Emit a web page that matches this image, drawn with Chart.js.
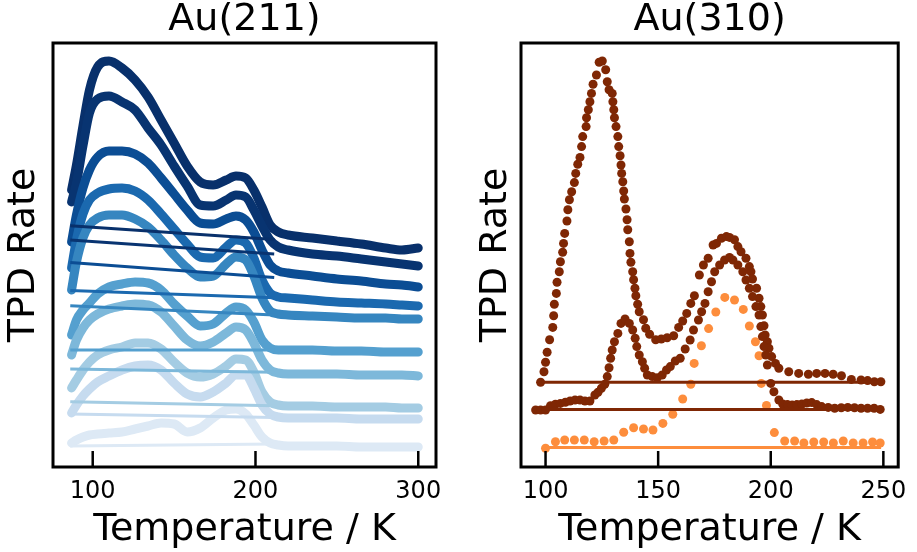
<!DOCTYPE html>
<html>
<head>
<meta charset="utf-8">
<script src="https://cdn.jsdelivr.net/npm/chart.js@4.4.1/dist/chart.umd.min.js"></script>
<style>
  html, body { margin: 0; padding: 0; background: #fff; }
  canvas { position: absolute; top: 0; }
  #chart-211 { left: 0; }
  #chart-310 { left: 465px; }
</style>
</head>
<body>
<canvas id="chart-211" width="465" height="552"></canvas>
<canvas id="chart-310" width="452" height="552"></canvas>
<script>
// ---- Au(211) data (temperature in K, rate in a.u., curves offset) ----
const temp211 = [87, 90, 94, 98, 103, 110, 118, 126, 134, 142, 150, 158, 166, 174, 182, 188, 194, 199, 204, 209, 214, 220, 235, 250, 265, 280, 290, 300];
const r211_1 = [69.25, 75.5, 85.25, 94.25, 100, 101.5, 99.75, 96.75, 92.5, 86.75, 81, 75.25, 71.25, 70.5, 71.75, 72.75, 72.25, 69.25, 65, 60.5, 58.75, 58, 57.25, 56.5, 55.75, 54.75, 54.25, 54.75];
const r211_2 = [66.25, 71, 80.25, 88.5, 92, 92.75, 91.25, 89.25, 84.75, 80.5, 75.25, 70.25, 65.5, 65.25, 66.75, 68, 67.5, 64.25, 60.25, 56.75, 55, 54.25, 53.25, 52.75, 52, 51.25, 50.75, 50.25];
const r211_3 = [56.25, 63, 69.75, 74.25, 77.5, 79, 79, 78.25, 76, 72.25, 68.25, 64.25, 61, 60.75, 62, 62.75, 61.75, 58.75, 54.25, 50.5, 49, 48.5, 47.75, 47, 46.5, 45.75, 45.5, 45];
const r211_4 = [49.75, 56.75, 63.25, 66.75, 68.5, 69.5, 69.75, 69, 66.75, 63.25, 59.5, 55.75, 52.5, 52.25, 55, 56.75, 56, 52.25, 46.75, 43.5, 42.5, 42.25, 41.75, 41.25, 41, 40.75, 40.5, 40.25];
const r211_5 = [44.25, 51.25, 57.25, 60.5, 62.25, 63, 63, 62, 60, 56.75, 53, 49.75, 47.5, 47.75, 50.75, 52.5, 51.75, 47.75, 42.25, 39, 38.25, 38, 37.75, 37.5, 37.25, 37.25, 37, 37];
const r211_6 = [33, 36.75, 39.25, 41, 43.25, 45, 45.75, 46.25, 46, 44.25, 40.75, 37.75, 35.25, 35.75, 38.5, 40, 39.25, 36.25, 31.75, 29.75, 29.25, 29.25, 29.25, 29, 29, 28.75, 28.75, 28.75];
const r211_7 = [28, 31.75, 34.75, 36.75, 38.25, 39.5, 40.25, 40.75, 40.5, 38.75, 35.25, 31.75, 30.25, 31.25, 33.5, 35, 34.25, 31, 26.75, 24.25, 23.5, 23.25, 23.25, 23.25, 23, 23, 23, 22.75];
const r211_8 = [19.75, 21.75, 24.25, 26.25, 28, 29.25, 30, 31, 31, 29.5, 26.25, 23.5, 22.5, 23.25, 25.25, 27, 26.75, 23.75, 18.75, 16.25, 15.5, 15.25, 15.25, 15, 15, 15, 14.75, 14.75];
const r211_9 = [13.5, 15.5, 17.75, 19.5, 21.25, 22.75, 24.25, 25.25, 25.5, 24.25, 21, 18.25, 17.5, 18.75, 21, 23, 23, 19.75, 15.5, 13.25, 12.5, 12.25, 12.25, 12.25, 12, 12, 12, 12];
const r211_10 = [6, 6.75, 7.5, 8, 8.25, 8.5, 8.75, 9.5, 10.25, 11, 10.75, 8.75, 9.75, 12.25, 14.25, 14.5, 13.25, 10.5, 7.5, 6, 5.5, 5.25, 5.25, 5.25, 5, 5, 5, 5];
// straight background lines: value at start / end temperature
const baseT211 = [86.2, 211.5];
const base211Start = [60.3, 56.75, 51.1, 44.1, 40.3, 29.25, 24.5, 16.3, 13.25, 5.25];
const base211End = [56.85, 53.25, 47.4, 42.3, 38.0, 29.25, 23.7, 15.3, 12.4, 5.75];
const ticks211 = [100, 200, 300];

// ---- Au(310) data ----
const t310a = [97.8, 99.3, 100.0, 100.7, 101.8, 103.2, 103.6, 103.9, 104.8, 105.1, 106.1, 106.6, 107.6, 108.0, 108.5, 109.5, 109.9, 110.6, 111.6, 112.8, 113.4, 114.3, 115.3, 116.0, 116.5, 118.0, 118.2, 119.0, 119.7, 120.4, 121.1, 122.6, 123.8, 125.2, 126.7, 127.4, 128.2, 129.6, 129.9, 130.3, 130.6, 131.3, 132.1, 132.5, 133.1, 133.5, 133.8, 134.3, 134.7, 135.0, 135.7, 136.2, 136.5, 137.2, 137.5, 137.9, 138.7, 139.1, 139.7, 140.1, 140.9, 141.6, 143.5, 144.5, 146.2, 148.9, 151.4, 154.0, 156.9, 159.1, 160.9, 162.7, 164.5, 166.1, 168.3, 170.1, 172.2, 174.4, 175.9, 178.1, 180.3, 181.7, 183.9, 185.4, 186.8, 189.0, 190.5, 191.2, 191.9, 193.7, 194.8, 195.6, 196.3, 197.0, 197.5, 198.5, 199.2, 200.4, 202.1, 203.6, 208, 212.4, 216.7, 220.4, 224.1, 227.7, 231.4, 235.8, 240.1, 243, 246, 248.9];
const r310a = [21.2, 23.8, 26.2, 28.7, 31.8, 34.9, 37.8, 40.7, 43.4, 46.2, 48.8, 51.3, 53.7, 55.9, 58.4, 61.5, 64.3, 66.8, 68.8, 71.1, 73.4, 75.7, 77.4, 80.1, 82.6, 85.1, 87.3, 89.3, 91.3, 93.4, 95.7, 98.0, 101.2, 101.5, 99.3, 96.3, 94.3, 93.4, 91.3, 89.3, 87.3, 85.1, 82.6, 80.1, 77.8, 75.5, 73.4, 71.3, 69.0, 67.0, 64.5, 61.8, 59.3, 56.3, 53.4, 51.2, 48.8, 46.8, 44.7, 42.8, 40.7, 38.8, 36.8, 34.7, 33.2, 31.8, 32.0, 32.3, 32.8, 34.9, 36.5, 38.4, 40.9, 42.8, 48.0, 50.5, 52.2, 55.5, 55.9, 57.2, 57.6, 57.4, 56.8, 55.1, 53.8, 52.2, 50.1, 48.8, 47.0, 44.7, 42.2, 40.1, 38.0, 35.3, 33.0, 31.3, 29.7, 27.6, 25.9, 24.7, 23.8, 23.4, 23.2, 23.4, 23.4, 23.2, 22.8, 21.9, 21.75, 21.6, 21.3, 21.3];
const t310b = [95.6, 97.8, 100.0, 102.2, 104.4, 106.6, 108.8, 110.9, 113.1, 115.3, 117.5, 119.7, 121.9, 123.3, 124.8, 126.3, 127.4, 128.2, 128.9, 129.6, 130.6, 132.1, 133.5, 135.3, 137.2, 138.7, 139.8, 140.5, 141.6, 143.0, 144.0, 145.2, 147.4, 149.6, 151.8, 153.7, 155.4, 157.6, 159.8, 162.0, 164.2, 165.7, 167.9, 169.3, 170.8, 172.2, 173.7, 175.1, 177.3, 179.5, 181.7, 183.2, 185.4, 187.6, 189.0, 190.5, 191.9, 193.4, 194.8, 195.6, 196.3, 197.0, 197.8, 198.5, 200.0, 201.4, 203.6, 205.3, 207.4, 209.5, 211.6, 213.8, 216.0, 218.2, 220.4, 222.6, 225.5, 228.4, 231.3, 234.2, 237.2, 240.1, 243.0, 245.9, 248.6];
const r310b = [14.25, 14.25, 14.25, 15.3, 15.7, 15.9, 16.2, 16.5, 16.75, 16.75, 16.5, 16.5, 18.0, 18.7, 19.7, 20.7, 22.6, 24.8, 27.2, 29.25, 31.3, 33.4, 35.9, 37.0, 35.9, 34.25, 32.2, 30.1, 28.0, 26.3, 24.7, 23.0, 22.6, 22.3, 23.0, 24.25, 25.1, 26.5, 27.2, 29.5, 31.75, 34.25, 36.75, 38.8, 40.9, 43.8, 46.3, 48.8, 50.5, 51.75, 52.4, 51.75, 50.5, 48.8, 46.75, 44.7, 42.6, 40.1, 38.0, 35.1, 32.6, 30.1, 28.0, 25.5, 20.9, 18.8, 16.75, 15.75, 15.6, 15.5, 15.6, 15.75, 16.0, 16.1, 15.6, 15.1, 14.9, 14.7, 14.8, 14.9, 14.8, 14.7, 14.7, 14.7, 14.4];
const t310c = [100.0, 104.4, 108.5, 112.8, 117.2, 121.6, 126.0, 130.3, 134.7, 139.1, 143.5, 147.7, 152.1, 156.5, 160.9, 164.5, 166.0, 169.2, 172.4, 175.6, 179.6, 183.9, 187.8, 190.5, 193.2, 194.8, 195.8, 198.1, 201.6, 206.2, 210.6, 214.7, 219.1, 223.5, 227.8, 232.2, 236.6, 241.0, 245.2, 248.6];
const r310c = [4.7, 6.3, 6.75, 6.75, 6.75, 6.3, 6.5, 6.75, 8.7, 9.8, 9.5, 9.25, 10.9, 13.2, 17.0, 20.7, 25.9, 30.3, 34.6, 38.75, 42.4, 41.75, 39.4, 35.25, 31.3, 27.8, 20.9, 15.4, 8.6, 6.5, 6.5, 6.0, 6.25, 6.25, 6.0, 6.5, 6.0, 6.0, 6.25, 6.0];
const baseT310 = [98, 249];
const base310 = [21.2, 14.4, 4.9];
const ticks310 = [100, 150, 200, 250];

const FONT = 'DejaVu Sans';
const blues = ['#08306b', '#083471', '#0b4d94', '#1b69af', '#3686c0', '#55a0cf', '#7db8da', '#a4cce3', '#c6dbef', '#dde9f5'];
const brown = '#7f2704';
const orange = '#fd8d3c';

//box around the plot + ticks pointing inwards
const frameBox = {
  id: 'frameBox',
  afterDraw(chart) {
    const { ctx, chartArea: a } = chart;
    const x = chart.scales.x;
    ctx.save();
    ctx.strokeStyle = '#000';
    ctx.lineWidth = 2.5;
    x.ticks.forEach(t => {
      const px = x.getPixelForValue(t.value);
      ctx.beginPath();
      ctx.moveTo(px, a.bottom);
      ctx.lineTo(px, a.bottom - 16);
      ctx.stroke();
    });
    ctx.lineWidth = 3;
    ctx.strokeRect(a.left, a.top, a.right - a.left, a.bottom - a.top);
    ctx.restore();
  }
};

function makeOptions(title, xmin, xmax, tickList, yWidth, yTitlePad, rightPad) {
  return {
    responsive: false,
    animation: false,
    devicePixelRatio: 1,
    layout: { padding: { left: 0, right: rightPad, top: 0, bottom: 0 } },
    plugins: {
      legend: { display: false },
      tooltip: { enabled: false },
      title: {
        display: true,
        text: title,
        fullSize: false,
        color: '#000',
        font: { family: FONT, size: 38, weight: 'normal', lineHeight: 1 },
        padding: { top: 1, bottom: 4 }
      }
    },
    scales: {
      x: {
        type: 'linear',
        min: xmin,
        max: xmax,
        afterBuildTicks: s => { s.ticks = tickList.map(v => ({ value: v })); },
        afterFit: s => { s.height = 85; },
        grid: { display: false, drawTicks: false },
        border: { display: false },
        ticks: { color: '#000', font: { family: FONT, size: 24 }, padding: 10, maxRotation: 0 },
        title: {
          display: true,
          text: 'Temperature / K',
          color: '#000',
          font: { family: FONT, size: 38, lineHeight: 1 },
          padding: { top: 0, bottom: 3 }
        }
      },
      y: {
        min: 0,
        max: 106,
        afterFit: s => { s.width = yWidth; },
        grid: { display: false, drawTicks: false },
        border: { display: false },
        ticks: { display: false },
        title: {
          display: true,
          text: 'TPD Rate',
          color: '#000',
          font: { family: FONT, size: 38, lineHeight: 1 },
          padding: { top: yTitlePad, bottom: 0 }
        }
      }
    }
  };
}

// Au(211) panel
const rates211 = [r211_1, r211_2, r211_3, r211_4, r211_5, r211_6, r211_7, r211_8, r211_9, r211_10];
const sets211 = [];
rates211.forEach((r, i) => {
  sets211.push({
    data: [{ x: baseT211[0], y: base211Start[i] }, { x: baseT211[1], y: base211End[i] }],
    borderColor: blues[i], borderWidth: 3, pointRadius: 0, order: 0
  });
});
rates211.forEach((r, i) => {
  sets211.push({
    data: temp211.map((t, j) => ({ x: t, y: r[j] })),
    borderColor: blues[i], borderWidth: 9,
    borderCapStyle: 'round', borderJoinStyle: 'round',
    cubicInterpolationMode: 'monotone',
    pointRadius: 0, order: 20 - i
  });
});

let chart211 = new Chart(document.getElementById('chart-211'), {
  type: 'line',
  data: { datasets: sets211 },
  options: makeOptions('Au(211)', 75.6, 310.9, ticks211, 53, 5, 29),
  plugins: [frameBox]
});

// Au(310) panel
const dots = (ts, rs) => ts.map((t, j) => ({ x: t, y: rs[j] }));
const lineColors310 = [brown, brown, orange];
const sets310 = base310.map((v, i) => ({
  data: [{ x: baseT310[0] + (i === 2 ? 2 : 0), y: v }, { x: baseT310[1], y: v }],
  borderColor: lineColors310[i], borderWidth: 3, pointRadius: 0, order: 0
}));
sets310.push(
  { data: dots(t310b, r310b), showLine: false, pointRadius: 4.5, pointBorderWidth: 0, pointBackgroundColor: brown, order: 1 },
  { data: dots(t310a, r310a), showLine: false, pointRadius: 4.5, pointBorderWidth: 0, pointBackgroundColor: brown, order: 2 },
  { data: dots(t310c, r310c), showLine: false, pointRadius: 4.5, pointBorderWidth: 0, pointBackgroundColor: orange, order: 3 }
);

let chart310 = new Chart(document.getElementById('chart-310'), {
  type: 'line',
  data: { datasets: sets310 },
  options: makeOptions('Au(310)', 89.1, 256.6, ticks310, 56, 12, 12),
  plugins: [frameBox]
});
</script>
</body>
</html>
